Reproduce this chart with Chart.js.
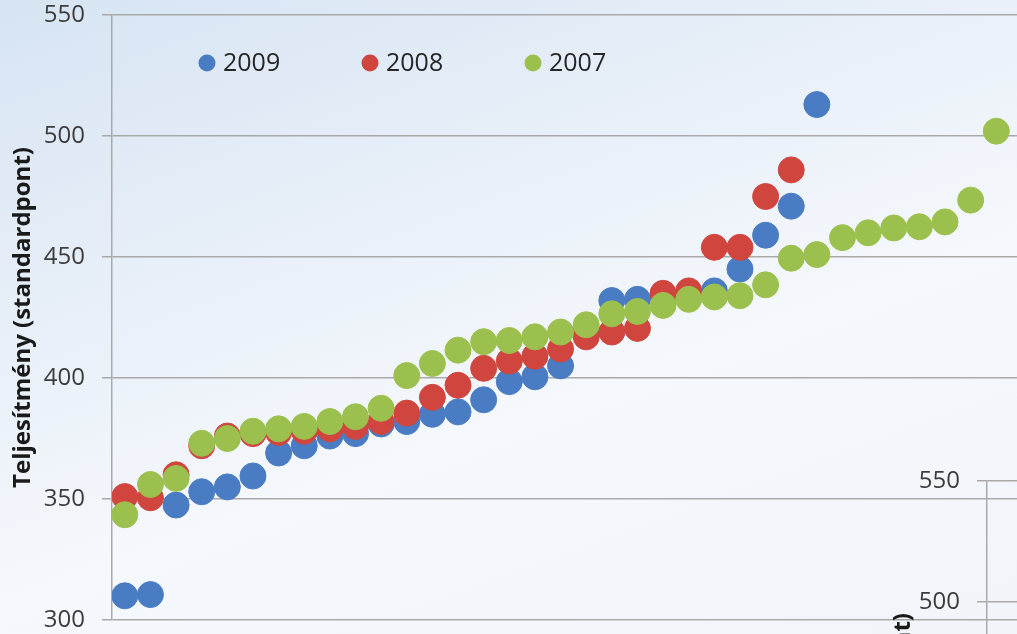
<!DOCTYPE html>
<html>
<head>
<meta charset="utf-8">
<script src="https://cdn.jsdelivr.net/npm/chart.js@4.4.1/dist/chart.umd.min.js"></script>
<style>
    html, body {
        margin: 0;
        padding: 0;
        width: 1017px;
        height: 634px;
        overflow: hidden;
    }
    body {
        position: relative;
        background: linear-gradient(160deg, #d6e4f2 0%, #e6eef8 30%, #f5f8fc 60%, #f1f5fa 100%);
    }
    #main-chart { position: absolute; left: 0; top: 0; }
    #side-chart { position: absolute; left: 880px; top: 466px; }
</style>
</head>
<body>
<canvas id="main-chart" width="1100" height="634"></canvas>
<canvas id="side-chart" width="300" height="634"></canvas>
<script>
// Series labels and colours (legend order)
const seriesLabels = ['2009', '2008', '2007'];
const seriesColors = ['#4a7cc3', '#d0463f', '#9bc04d'];

// Values per rank position
const values2009 = [310, 310.5, 347.5, 353, 355, 359.5, 369, 372, 376, 377, 381, 382, 385, 386,
    391, 398.5, 400.5, 405, 420, 432, 432.5, 434, 434, 436, 445, 459, 471, 513];
const values2008 = [351, 350.5, 360, 372, 376, 377, 377.5, 378, 379, 380, 382, 385.5, 392, 397,
    404, 407, 409, 412, 417, 419, 420.5, 435, 436, 454, 454, 475, 486];
const values2007 = [343.5, 356, 358.5, 373, 375, 378, 379, 380, 382, 384, 387.5, 401, 406, 411.5,
    415, 415.5, 417, 419, 422, 426.5, 427.5, 430, 432.5, 433.5, 434, 438.5, 449.5, 451, 458,
    460, 462, 462.5, 464.5, 473.5, 502];

// Y axis
const yMin = 300;
const yMax = 550;
const yStep = 50;
const yTitle = 'Teljesítmény (standardpont)';

const FONT = '"Open Sans", "DejaVu Sans", sans-serif';
const GRID = '#a9a9a9';

const toPoints = vals => vals.map((v, i) => ({ x: i, y: v }));

// Draws the in-plot legend (dot + year)
const inlineLegend = {
    id: 'inlineLegend',
    afterDraw(chart) {
        const ctx = chart.ctx;
        ctx.save();
        ctx.font = '25px ' + FONT;
        ctx.textBaseline = 'middle';
        chart.data.datasets.forEach((ds, k) => {
            const cx = 207 + k * 163;
            const cy = 63;
            ctx.beginPath();
            ctx.arc(cx, cy, 8.5, 0, Math.PI * 2);
            ctx.fillStyle = ds.backgroundColor;
            ctx.fill();
            ctx.fillStyle = '#262626';
            ctx.fillText(ds.label, cx + 16, cy + 1);
        });
        ctx.restore();
    }
};

function yAxis(width) {
    return {
        min: yMin,
        max: yMax,
        afterFit: (scale) => {
            // fixed axis box so the plot area lands where the original has it
            scale.width = width;
            scale.paddingTop = 15;
            scale.paddingBottom = 14;
        },
        ticks: {
            stepSize: yStep,
            color: '#3c3c3c',
            padding: 17,
            font: { family: FONT, size: 24 }
        },
        grid: { color: GRID, lineWidth: 1.5, tickLength: 10 },
        border: { display: true, color: GRID, width: 1.5 },
        title: {
            display: true,
            text: yTitle,
            color: '#1a1a1a',
            padding: { top: 9, bottom: 0 },
            font: { family: FONT, size: 24, weight: 'bold' }
        }
    };
}

const datasets = [values2009, values2008, values2007].map((vals, k) => ({
    label: seriesLabels[k],
    data: toPoints(vals),
    backgroundColor: seriesColors[k],
    borderColor: seriesColors[k],
    borderWidth: 1,
    pointRadius: 13,
    pointHoverRadius: 13,
    order: 3 - k   // 2007 drawn on top
}));

new Chart(document.getElementById('main-chart'), {
    type: 'scatter',
    data: { datasets },
    options: {
        responsive: false,
        animation: false,
        layout: { padding: 0 },
        plugins: {
            legend: { display: false },
            tooltip: { enabled: false }
        },
        scales: {
            x: { type: 'linear', min: -0.5, max: 37.5, display: false },
            y: yAxis(112)
        }
    },
    plugins: [inlineLegend]
});

// Second chart, only its corner shows in the frame
new Chart(document.getElementById('side-chart'), {
    type: 'scatter',
    data: { datasets: [] },
    options: {
        responsive: false,
        animation: false,
        layout: { padding: 0 },
        plugins: {
            legend: { display: false },
            tooltip: { enabled: false }
        },
        scales: {
            x: { type: 'linear', min: 0, max: 10, display: false },
            y: yAxis(107)
        }
    }
});
</script>
</body>
</html>
